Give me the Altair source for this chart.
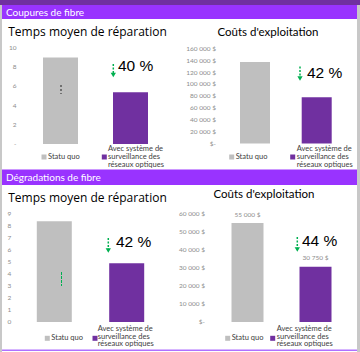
import altair as alt
import pandas as pd

# ---------------- data ----------------
categories = ["Statu quo", "Avec système de surveillance des réseaux optiques"]
legend_short = ["Statu quo", "Avec système de", "surveillance des", "réseaux optiques"]

mttr_cuts = [9.0, 5.4]
cost_cuts = [138000, 78500]
mttr_degr = [8.4, 4.9]
cost_degr = [55000, 30750]
cost_degr_labels = ["55 000 $", "30 750 $"]
reductions = ["40 %", "42 %", "42 %", "44 %"]

ticks_mttr_cuts = [0, 2, 4, 6, 8, 10]
ticklab_mttr_cuts = ["-", "2", "4", "6", "8", "10"]
ticks_cost_cuts = [0, 20000, 40000, 60000, 80000, 100000, 120000, 140000, 160000]
ticklab_cost_cuts = ["$-", "20 000 $", "40 000 $", "60 000 $", "80 000 $",
                     "100 000 $", "120 000 $", "140 000 $", "160 000 $"]
ticks_mttr_degr = [0, 1, 2, 3, 4, 5, 6, 7, 8, 9]
ticklab_mttr_degr = ["0", "1", "2", "3", "4", "5", "6", "7", "8", "9"]
ticks_cost_degr = [0, 10000, 20000, 30000, 40000, 50000, 60000]
ticklab_cost_degr = ["$-", "10 000 $", "20 000 $", "30 000 $", "40 000 $", "50 000 $", "60 000 $"]

section_titles = ["Coupures de fibre", "Dégradations de fibre"]
chart_titles = ["Temps moyen de réparation", "Coûts d'exploitation"]

GREY = "#BFBFBF"
PURPLE = "#7030A0"
HEADER = "#9933FF"
GREEN = "#00B050"
TICK = "#8C8C8C"
LEG = "#404040"
F_TITLE = "Open Sans"
F_SMALL = "Lato"

one = pd.DataFrame({"d": [0]})


def deco_rect(x, x2, y, y2, color):
    return alt.Chart(one).mark_rect(color=color).encode(
        x=alt.value(x), x2=alt.value(x2), y=alt.value(y), y2=alt.value(y2))


def text_at(txt, x, y, size, color="black", font=F_SMALL, align="left", weight="normal"):
    return alt.Chart(one).mark_text(
        text=txt, fontSize=size, color=color, font=font, align=align,
        baseline="middle", fontWeight=weight).encode(x=alt.value(x), y=alt.value(y))


def arrow(x, y1, y2):
    shaft = alt.Chart(one).mark_rule(color=GREEN, strokeWidth=1.5, strokeDash=[2, 1.5]).encode(
        x=alt.value(x), y=alt.value(y1), y2=alt.value(y2 - 3))
    head = alt.Chart(one).mark_point(shape="triangle-down", filled=True, color=GREEN,
                                     size=28, opacity=1).encode(
        x=alt.value(x), y=alt.value(y2 - 2))
    return shaft + head


def panel(values, xr, bw, ydom, yr, ticks, ticklabs, tick_x, tick_align, data_labels=None):
    df = pd.DataFrame({"cat": categories, "value": values})
    xs = alt.Scale(type="point", domain=categories, range=xr, padding=0)
    ys = alt.Scale(domain=ydom, range=yr, zero=True, nice=False)
    bars = alt.Chart(df).mark_bar(size=bw).encode(
        x=alt.X("cat:N", scale=xs, axis=None),
        y=alt.Y("value:Q", scale=ys, axis=None),
        color=alt.Color("cat:N", scale=alt.Scale(domain=categories, range=[GREY, PURPLE]),
                        legend=None),
    )
    tdf = pd.DataFrame({"value": ticks, "lab": ticklabs})
    tl = alt.Chart(tdf).mark_text(fontSize=6.5, color=TICK, font=F_SMALL,
                                  align=tick_align, baseline="middle").encode(
        x=alt.value(tick_x),
        y=alt.Y("value:Q", scale=ys, axis=None),
        text="lab:N",
    )
    layers = [bars, tl]
    if data_labels is not None:
        ldf = pd.DataFrame({"cat": categories, "value": values, "lab": data_labels})
        dl = alt.Chart(ldf).mark_text(fontSize=6.5, color=TICK, font=F_SMALL,
                                      baseline="middle", dy=-8.5).encode(
            x=alt.X("cat:N", scale=xs, axis=None),
            y=alt.Y("value:Q", scale=ys, axis=None),
            text="lab:N",
        )
        layers.append(dl)
    return alt.layer(*layers)


def legend(gx, gy, px, lines_y, lx):
    parts = [
        deco_rect(gx - 2.5, gx + 2.5, gy - 2.5, gy + 2.5, GREY),
        text_at(legend_short[0], gx + 4, gy, 7.5, LEG),
        deco_rect(px - 2.5, px + 2.5, gy - 2.5, gy + 2.5, PURPLE),
    ]
    for t, yy in zip(legend_short[1:], lines_y):
        parts.append(text_at(t, lx, yy, 7.5, LEG))
    return alt.layer(*parts)


p1 = panel(mttr_cuts, [60.5, 130.5], 35, [0, 10], [144, 48],
           ticks_mttr_cuts, ticklab_mttr_cuts, 16.5, "right")
p2 = panel(cost_cuts, [255, 316.7], 30, [0, 160000], [143.5, 49],
           ticks_cost_cuts, ticklab_cost_cuts, 216, "right")
p3 = panel(mttr_degr, [54.3, 126.7], 35, [0, 9], [322, 214],
           ticks_mttr_degr, ticklab_mttr_degr, 9.5, "center")
p4 = panel(cost_degr, [247.5, 315.5], 32, [0, 60000], [322, 214],
           ticks_cost_degr, ticklab_cost_degr, 205, "right", cost_degr_labels)

deco = alt.layer(
    deco_rect(0, 2, 5, 352, "#C8C8C8"),
    deco_rect(357, 360, 5, 352, "#C8C8C8"),
    deco_rect(0, 360, 0, 5, PURPLE),
    deco_rect(2, 357, 5, 19, HEADER),
    deco_rect(2, 357, 169.5, 185, HEADER),
    deco_rect(2, 357, 349.5, 351, "#B070FF"),
    text_at(section_titles[0], 6, 12.5, 10, "white", F_SMALL),
    text_at(section_titles[1], 6, 177.5, 10, "white", F_SMALL),
    text_at(chart_titles[0], 87.5, 32, 12, "black", F_TITLE, "center"),
    text_at(chart_titles[1], 268, 33, 11.5, "black", F_SMALL, "center"),
    text_at(chart_titles[0], 87.5, 198, 12, "black", F_TITLE, "center"),
    text_at(chart_titles[1], 264, 194.5, 11.5, "black", F_SMALL, "center"),
    text_at(reductions[0], 118, 66, 15.5, "black", "Liberation Sans"),
    text_at(reductions[1], 307, 73, 15.5, "black", "Liberation Sans"),
    text_at(reductions[2], 116, 241.5, 15.5, "black", "Liberation Sans"),
    text_at(reductions[3], 302, 241, 15.5, "black", "Liberation Sans"),
    arrow(113.3, 64, 77),
    arrow(300, 66.5, 80.5),
    arrow(108.3, 238, 252.5),
    arrow(297.3, 237, 251.5),
)

marks_extra = alt.layer(
    alt.Chart(one).mark_rule(color="#222222", strokeWidth=1, strokeDash=[2, 2]).encode(
        x=alt.value(61), y=alt.value(85), y2=alt.value(94)),
    alt.Chart(one).mark_rule(color=GREEN, strokeWidth=1, strokeDash=[3, 1]).encode(
        x=alt.value(61.5), y=alt.value(272), y2=alt.value(286)),
)

legs = alt.layer(
    legend(44, 157, 104.3, [149.3, 157, 164.5], 108),
    legend(231.7, 157, 292.7, [149.3, 157, 164.5], 296.7),
    legend(47.3, 338.3, 95, [329, 336.7, 344.3], 97.7),
    legend(227.7, 338.3, 272.7, [329, 336.7, 344.3], 276.7),
)

chart = alt.layer(
    deco, p1, p2, p3, p4, marks_extra, legs
).resolve_scale(x="independent", y="independent", color="independent").properties(
    width=360, height=352, padding=0,
    autosize=alt.AutoSizeParams(type="none"),
    background="white",
).configure_view(stroke=None)

chart.save("out.html", embed_options={"renderer": "svg", "actions": False})
